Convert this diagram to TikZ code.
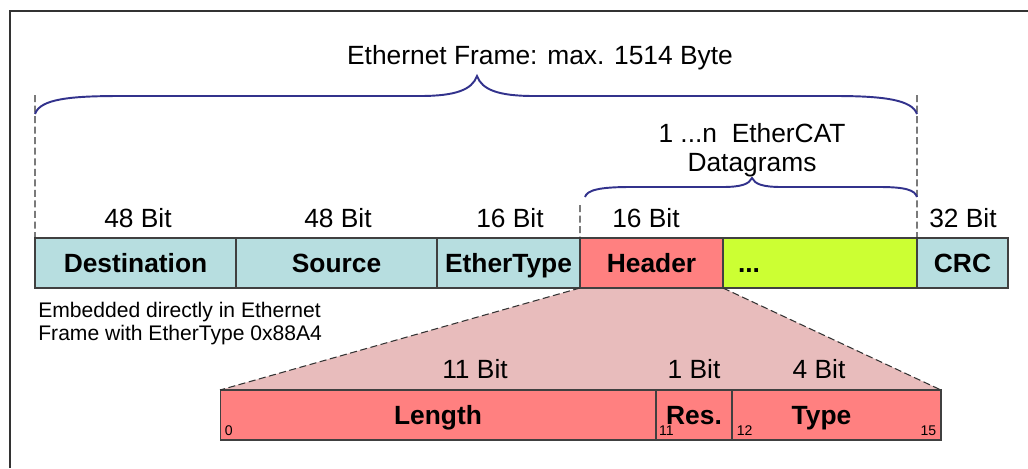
\documentclass[tikz,border=0pt]{standalone}
\usepackage{fontspec}
\setmainfont{Liberation Sans}
\usetikzlibrary{backgrounds}
\definecolor{ethcyan}{RGB}{183,222,224}
\definecolor{hdrred}{RGB}{255,128,128}
\definecolor{dgramlime}{RGB}{204,255,51}
\definecolor{fanpink}{RGB}{232,188,188}
\definecolor{bracenavy}{RGB}{50,50,140}
\begin{document}
\begin{tikzpicture}[x=0.02cm, y=-0.02cm,
	field/.style={draw=black!75, line width=0.6pt, minimum height=1cm, inner sep=0pt, outer sep=0pt,
		text height=10.7pt, text depth=0pt, font=\bfseries\fontsize{15}{18}\selectfont},
	bits/.style={anchor=base, inner sep=0pt, font=\fontsize{15}{18}\selectfont},
	bitno/.style={inner sep=2.5pt, font=\fontsize{8}{9}\selectfont},
	brace/.style={draw=bracenavy, line width=1.1pt},
	guide/.style={draw=black!80, line width=0.6pt, dash pattern=on 4pt off 2pt}]
	\useasboundingbox (0,0) rectangle (1028,468);
	\draw[line width=0.9pt, black!80] (10,468) -- (10,11) -- (1028,11);
	\node[field, fill=ethcyan, minimum width=4.02cm] (dest) at (135.5,263) {Destination};
	\node[field, fill=ethcyan, minimum width=4.02cm] (src) at (336.5,263) {Source};
	\node[field, fill=ethcyan, minimum width=2.86cm] (etype) at (508.5,263) {EtherType};
	\node[field, fill=hdrred, minimum width=2.86cm] (header) at (651.5,263) {Header};
	\node[field, fill=dgramlime, minimum width=3.88cm, text width=3.28cm, align=left] (data) at (820,263) {...};
	\node[field, fill=ethcyan, minimum width=1.82cm] (crc) at (962.5,263) {CRC};
	\node[field, fill=hdrred, minimum width=8.72cm] (len) at (438,415) {Length};
	\node[field, fill=hdrred, minimum width=1.52cm] (res) at (694,415) {Res.};
	\node[field, fill=hdrred, minimum width=4.18cm] (type) at (836.5,415) {Type\hspace*{0.6cm}};
	\begin{scope}[on background layer]
		\fill[fanpink] (header.south west) -- (header.south east) -- (type.north east) -- (len.north west) -- cycle;
	\end{scope}
	\draw[guide] (header.south west) -- (len.north west);
	\draw[guide] (header.south east) -- (type.north east);
	\node[bitno, anchor=south west] (b0) at (len.south west) {0};
	\node[bitno, anchor=south west, inner xsep=1.5pt] (b11) at (res.south west) {11};
	\node[bitno, anchor=south west] (b12) at (type.south west) {12};
	\node[bitno, anchor=south east] (b15) at (type.south east) {15};
	\node[bits] (wdest) at (138,227) {48 Bit};
	\node[bits] (wsrc) at (338,227) {48 Bit};
	\node[bits] (wetype) at (510,227) {16 Bit};
	\node[bits] (whdr) at (646,227) {16 Bit};
	\node[bits] (wcrc) at (963,227) {32 Bit};
	\node[bits] (wlen) at (475,378) {11 Bit};
	\node[bits] (wres) at (694,378) {1 Bit};
	\node[bits] (wtype) at (819,378) {4 Bit};
	\node[bits] (frame) at (540,64) {Ethernet Frame: max. 1514 Byte};
	\node[bits, align=center, font=\fontsize{15}{16.5}\selectfont] (dgrams) at (752,171) {1 ...n\ \ EtherCAT\\Datagrams};
	\node[anchor=base west, inner sep=0pt, align=left, font=\fontsize{12}{13}\selectfont] (note) at (38,340)
		{Embedded directly in Ethernet\\Frame with EtherType 0x88A4};
	\coordinate (lt) at (35,95);
	\coordinate (rt) at (917,95);
	\coordinate (mt) at (580,205);
	\draw[guide] (lt) -- (dest.north west);
	\draw[guide] (rt) -- (data.north east);
	\draw[guide] (mt) -- (header.north west);
	\draw[brace] (35,114) .. controls (40,99) and (70,96) .. (120,96) -- (420,96)
		.. controls (455,96) and (472,90) .. (477,76) .. controls (482,90) and (499,96) .. (534,96)
		-- (835,96) .. controls (885,96) and (912,100) .. (917,114);
	\draw[brace] (585,197) .. controls (587,190) and (600,187) .. (630,187) -- (722,187)
		.. controls (742,187) and (749,184) .. (752,178) .. controls (755,184) and (762,187) .. (782,187)
		-- (880,187) .. controls (905,187) and (915,190) .. (917,197);
\end{tikzpicture}
\end{document}
